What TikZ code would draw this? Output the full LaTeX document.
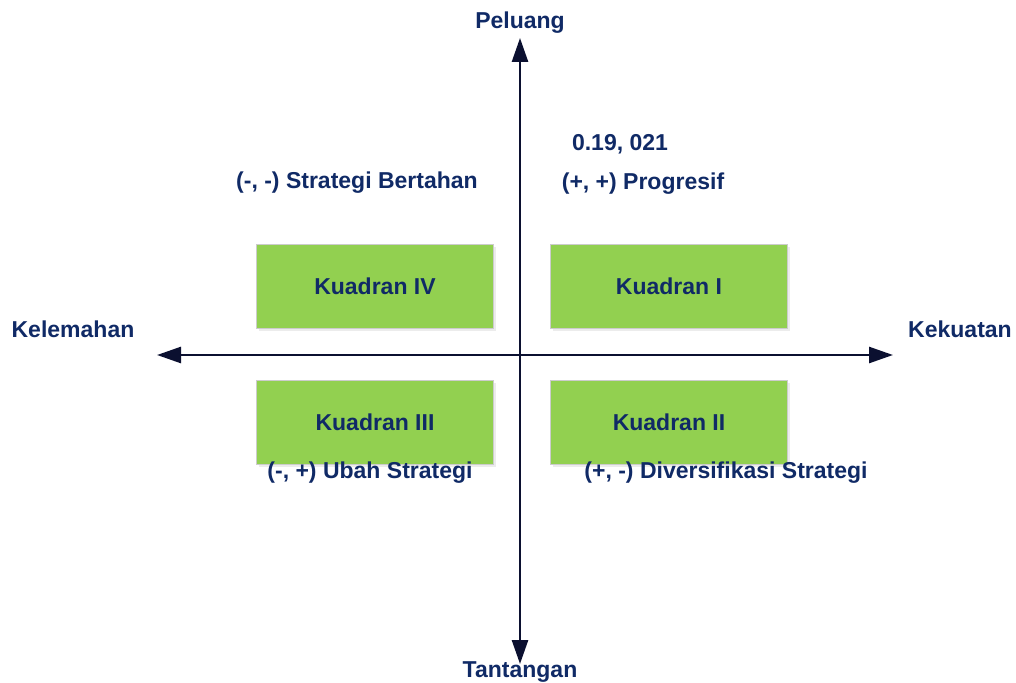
\documentclass[tikz,border=0pt]{standalone}
\usepackage{fontspec}
\setmainfont{Liberation Sans}
\usetikzlibrary{arrows.meta,shadows}
\definecolor{navy}{HTML}{102A66}
\definecolor{axiscol}{HTML}{0B1030}
\definecolor{boxgreen}{HTML}{92D050}
\tikzset{
  lbl/.style={text=navy,font=\fontsize{23}{26}\selectfont\bfseries,inner sep=0pt},
  quad/.style={fill=boxgreen,draw=black!20,line width=0.8pt,minimum width=237pt,minimum height=84pt,inner sep=0pt,
    text=navy,font=\fontsize{23}{26}\selectfont\bfseries,
    drop shadow={shadow xshift=2pt,shadow yshift=-3pt,fill=black!12,opacity=0.6}},
  axis/.style={draw=axiscol,line width=2.6pt,-{Triangle[length=24pt,width=16pt]}}
}
\begin{document}
\begin{tikzpicture}[x=1pt,y=-1pt]
\useasboundingbox (0,0) rectangle (1016,682);
\coordinate (c) at (520,355);
\coordinate (top) at (520,38);
\coordinate (bot) at (520,664);
\coordinate (lft) at (157,355);
\coordinate (rgt) at (893,355);
\draw[axis] (c) -- (top);
\draw[axis] (c) -- (bot);
\draw[axis] (c) -- (lft);
\draw[axis] (c) -- (rgt);
\node[quad] (q4) at (375,286) {Kuadran IV};
\node[quad] (q1) at (669,286) {Kuadran I};
\node[quad] (q3) at (375,422) {Kuadran III};
\node[quad] (q2) at (669,422) {Kuadran II};
\node[lbl] (pel) at (520,23) {Peluang};
\node[lbl] (tan) at (520,672) {Tantangan};
\node[lbl] (kel) at (73,329) {Kelemahan};
\node[lbl] (kek) at (960,329) {Kekuatan};
\node[lbl] (val) at (620,144) {0.19, 021};
\node[lbl] (prog) at (643,184) {(+, +) Progresif};
\node[lbl] (bert) at (357,183) {(-, -) Strategi Bertahan};
\node[lbl] (ubah) at (370,473) {(-, +) Ubah Strategi};
\node[lbl] (div) at (726,473) {(+, -) Diversifikasi Strategi};
\end{tikzpicture}
\end{document}
